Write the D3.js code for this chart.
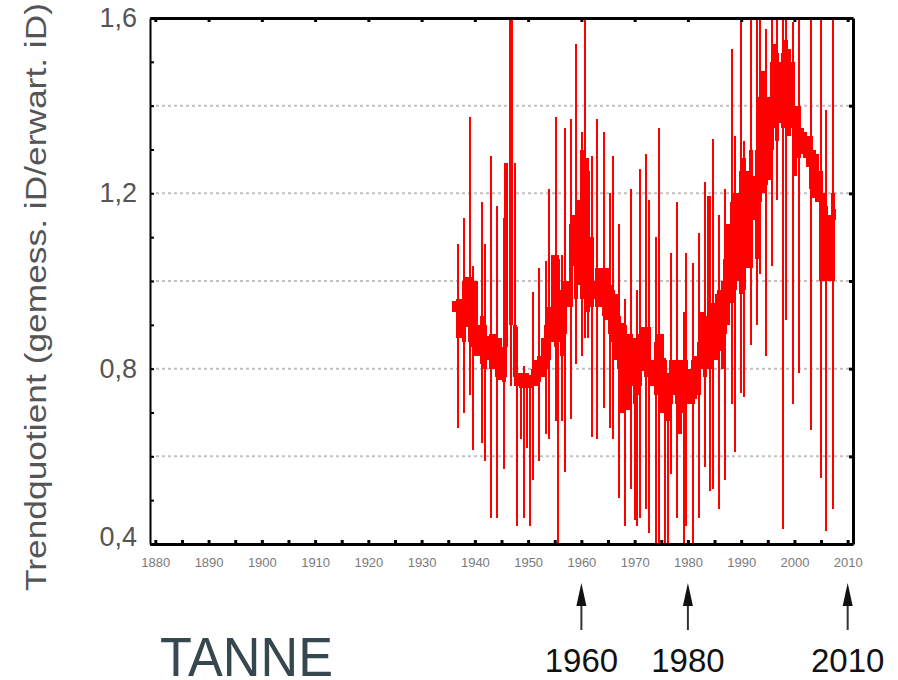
<!DOCTYPE html>
<html>
<head>
<meta charset="utf-8">
<script src="https://cdn.jsdelivr.net/npm/d3@7"></script>
<style>
  body { margin: 0; background: #fff; }
  svg { display: block; font-family: "Liberation Sans", Arial, sans-serif; }
</style>
</head>
<body>
<svg id="chart" width="898" height="680"></svg>
<script>
// time of each sample (decimal year)
const years = [1936.1, 1936.75, 1937.3, 1937.9, 1938.5, 1939.1, 1939.7, 1940.3, 1940.8, 1941.3,
  1941.9, 1942.5, 1943.1, 1943.6, 1944.2, 1944.7, 1945.4, 1945.9, 1946.7, 1947.5,
  1948.0, 1948.6, 1949.2, 1949.8, 1950.4, 1950.9, 1951.5, 1952.1, 1952.7, 1953.3,
  1953.9, 1954.6, 1955.2, 1955.7, 1956.3, 1956.9, 1957.5, 1958.0, 1958.4, 1959.0,
  1959.6, 1960.2, 1960.7, 1961.3, 1961.9, 1962.5, 1963.0, 1963.6, 1964.2, 1964.8,
  1965.4, 1965.9, 1966.5, 1967.1, 1967.7, 1968.2, 1968.8, 1969.4, 1970.0, 1970.5,
  1971.0, 1971.6, 1972.1, 1972.7, 1973.3, 1974.0, 1974.5, 1975.1, 1975.7, 1976.3,
  1976.8, 1977.4, 1978.0, 1978.5, 1979.2, 1979.7, 1980.3, 1980.9, 1981.4, 1982.0,
  1982.6, 1983.2, 1983.8, 1984.2, 1984.8, 1985.4, 1985.9, 1986.5, 1987.0, 1987.6,
  1988.2, 1988.8, 1989.3, 1989.9, 1990.5, 1991.2, 1991.8, 1992.4, 1992.9, 1993.5,
  1994.1, 1994.7, 1995.2, 1995.7, 1996.2, 1996.8, 1997.3, 1997.9, 1998.5, 1999.0,
  1999.7, 2000.2, 2000.8, 2001.4, 2002.0, 2002.5, 2003.1, 2003.6, 2004.2, 2004.9,
  2005.4, 2005.9, 2006.6, 2007.2, 2007.5];

// box (inner range)
const boxLo = [.93, .87, .87, .86, .895, .86, .85, .83, .83, .81,
  .80, .82, .80, .80, .78, .775, .77, .85, .90, .78,
  .76, .755, .755, .755, .755, .76, .76, .77, .78, .80,
  .82, .86, .85, .86, .83, .88, .94, .94, 1.035, .96,
  .99, .96, .96, .93, .94, .96, .94, .94, .92, .91,
  .88, .86, .82, .80, .70, .74, .705, .76, .72, .74,
  .76, .795, .78, .78, .76, .74, .76, .70, .70, .68,
  .72, .74, .72, .65, .70, .72, .72, .72, .73, .74,
  .80, .78, .80, .80, .82, .82, .84, .80, .88, .90,
  .95, .98, 1.0, .97, .98, 1.03, 1.03, 1.14, 1.05, 1.18,
  1.2, 1.22, 1.23, 1.3, 1.35, 1.32, 1.36, 1.35, 1.37, 1.33,
  1.35, 1.24, 1.28, 1.29, 1.28, 1.26, 1.21, 1.19, 1.18, 1.0,
  1.0, 1.0, 1.0, 1.0, 1.14];
const boxHi = [.955, .96, .96, 1.0, 1.01, 1.01, .99, 1.0, .90, .92,
  .90, .875, .88, .88, .87, .87, .85, 1.27, 1.65, .90,
  .79, .79, .79, .79, .785, .80, .82, .83, .87, .90,
  .94, 1.06, 1.0, 1.05, .98, 1.0, 1.0, 1.13, 1.15, 1.15,
  1.185, 1.30, 1.28, 1.25, 1.10, 1.0, 1.03, 1.03, 1.03, 1.03,
  .99, .98, .97, .92, .905, .90, .88, .88, .87, .87,
  .88, .895, .88, .895, .82, .86, .88, .88, .82, .79,
  .82, .82, .80, .82, .82, .82, .80, .82, .83, .86,
  .93, .92, .92, .92, .95, .97, .98, 1.0, 1.05, 1.13,
  1.18, 1.20, 1.2, 1.25, 1.28, 1.25, 1.3, 1.24, 1.3, 1.42,
  1.48, 1.38, 1.42, 1.5, 1.54, 1.52, 1.5, 1.52, 1.55, 1.53,
  1.5, 1.40, 1.40, 1.35, 1.34, 1.33, 1.33, 1.30, 1.29, 1.25,
  1.2, 1.17, 1.15, 1.2, 1.165];

// whiskers (null = no whisker outside the box)
const whiskLo = [null, .665, null, .70, null, .74, .615, null, null, .63,
  .59, null, .46, null, .46, null, .57, .78, .76, .76,
  .44, .64, .46, .62, .44, .545, null, .59, null, .65,
  .64, null, .68, .40, .68, .565, null, .685, null, .81,
  null, .83, .87, .87, .645, null, .64, null, .71, null,
  .665, .64, null, .505, null, .44, null, .525, .455, .44,
  .46, null, .48, .425, null, .39, .39, null, .39, .39,
  .56, null, .46, null, .39, .44, null, .39, null, .46,
  null, .575, .80, .52, .525, null, .48, null, .545, null,
  .72, .61, null, .745, .735, null, .855, null, .90, 1.015,
  null, .83, null, 1.035, null, 1.185, null, .435, .91, null,
  .72, null, .79, null, null, null, .66, null, null, .55,
  null, .43, null, .48, null];
const whiskHi = [null, 1.084, null, 1.143, null, 1.375, 1.035, null, null, 1.18,
  1.085, null, 1.285, null, 1.17, null, 1.143, 1.26, 1.65, 1.27,
  .895, .79, .805, .79, .785, .975, null, 1.03, null, 1.045,
  1.21, null, 1.375, 1.06, 1.06, 1.35, null, 1.37, null, 1.54,
  null, 1.34, 1.65, 1.28, 1.285, null, 1.37, null, 1.34, null,
  1.2, 1.285, null, 1.13, null, .96, null, 1.21, .87, .98,
  1.255, null, 1.29, 1.185, null, 1.1, 1.35, null, .825, .79,
  1.065, null, 1.18, null, .93, 1.065, null, 1.04, null, 1.11,
  null, 1.225, 1.195, 1.195, 1.325, null, 1.15, null, 1.21, null,
  1.53, 1.33, null, 1.59, 1.32, null, 1.65, null, 1.65, 1.65,
  null, 1.575, null, 1.65, null, 1.65, null, 1.65, 1.65, null,
  1.59, null, 1.65, null, null, null, 1.65, null, null, 1.65,
  null, 1.39, null, 1.65, null];

const yLabelVals = [0.4, 0.8, 1.2, 1.6];
const yMinorVals = [0.4, 0.5, 0.6, 0.7, 0.8, 0.9, 1.0, 1.1, 1.2, 1.3, 1.4, 1.5, 1.6];
const gridVals = [0.6, 0.8, 1.0, 1.2, 1.4];
const xTickVals = d3.range(1880, 2011, 5);
const markYears = [1960, 1980, 2010];
const yTitle = "Trendquotient (gemess. iD/erwart. iD)";
const speciesName = "TANNE";

const svg = d3.select("#chart");

const x = d3.scaleLinear().domain([1879, 2011]).range([150, 853]);
const y = d3.scaleLinear().domain([0.4, 1.6]).range([544, 18]);
const comma = v => d3.format(".1f")(v).replace(".", ",");

// dotted grid
svg.append("g")
  .selectAll("line")
  .data(gridVals)
  .join("line")
  .attr("x1", x.range()[0])
  .attr("x2", x.range()[1])
  .attr("y1", d => y(d))
  .attr("y2", d => y(d))
  .attr("stroke", "#c0c0c0")
  .attr("stroke-width", 2)
  .attr("stroke-dasharray", "3,3");

svg.append("clipPath").attr("id", "plot")
  .append("rect")
  .attr("x", x.range()[0]).attr("y", y.range()[1])
  .attr("width", x.range()[1] - x.range()[0])
  .attr("height", y.range()[0] - y.range()[1]);

const pts = years.map((yr, i) => ({
  yr, bLo: boxLo[i], bHi: boxHi[i], wLo: whiskLo[i], wHi: whiskHi[i]
}));

const plot = svg.append("g")
  .attr("clip-path", "url(#plot)")
  .attr("shape-rendering", "crispEdges");

// whiskers
plot.selectAll("rect.w")
  .data(pts.filter(d => d.wLo !== null))
  .join("rect")
  .attr("class", "w")
  .attr("x", d => Math.round(x(d.yr)) - 1)
  .attr("width", 2)
  .attr("y", d => Math.round(y(d.wHi)))
  .attr("height", d => Math.round(y(d.wLo)) - Math.round(y(d.wHi)))
  .attr("fill", "#ff0000");

// boxes
plot.selectAll("rect.b")
  .data(pts)
  .join("rect")
  .attr("class", "b")
  .attr("x", d => Math.round(x(d.yr)) - 2)
  .attr("width", 4)
  .attr("y", d => Math.round(y(d.bHi)))
  .attr("height", d => Math.max(3, Math.round(y(d.bLo)) - Math.round(y(d.bHi))))
  .attr("fill", "#ff0000");

// left axis
const gl = svg.append("g")
  .attr("transform", `translate(${x.range()[0]},0)`)
  .call(d3.axisLeft(y).tickValues(yMinorVals).tickSize(-4).tickSizeOuter(0).tickPadding(13)
    .tickFormat(d => yLabelVals.some(v => Math.abs(v - d) < 1e-6) ? comma(d) : ""));
gl.select(".domain").attr("stroke-width", 2);
gl.selectAll(".tick line").attr("stroke-width", 2);
gl.selectAll("text").attr("font-size", 27).attr("fill", "#555")
  .attr("font-family", "Liberation Sans, Arial, sans-serif");
gl.selectAll(".tick").filter(d => Math.abs(d - 0.4) < 1e-6).select("text").attr("dy", "0.05em");

// right axis
const gr = svg.append("g")
  .attr("transform", `translate(${x.range()[1]},0)`)
  .call(d3.axisRight(y).tickValues(gridVals).tickSize(-4).tickSizeOuter(0).tickFormat(""));
gr.select(".domain").attr("stroke-width", 3);
gr.selectAll(".tick line").attr("stroke-width", 3);

// bottom axis
const gb = svg.append("g")
  .attr("transform", `translate(0,${y.range()[0]})`)
  .call(d3.axisBottom(x).tickValues(xTickVals).tickSize(-4).tickSizeOuter(0).tickPadding(14)
    .tickFormat(d => d % 10 === 0 ? d : ""));
gb.select(".domain").attr("stroke-width", 3);
gb.selectAll(".tick line").attr("stroke-width", 3);
gb.selectAll("text").attr("font-size", 13).attr("fill", "#7a7a7a")
  .attr("font-family", "Liberation Sans, Arial, sans-serif");

// top axis
const gt = svg.append("g")
  .attr("transform", `translate(0,${y.range()[1]})`)
  .call(d3.axisTop(x).tickValues(xTickVals.filter(d => d % 10 === 0)).tickSize(-4).tickSizeOuter(0).tickFormat(""));
gt.select(".domain").attr("stroke-width", 3);
gt.selectAll(".tick line").attr("stroke-width", 3);

// y title
svg.append("text")
  .attr("transform", "translate(46,297) rotate(-90)")
  .attr("text-anchor", "middle")
  .attr("font-size", 30)
  .attr("fill", "#555")
  .attr("textLength", 588)
  .attr("lengthAdjust", "spacingAndGlyphs")
  .text(yTitle);

// species label
svg.append("text")
  .attr("x", 160).attr("y", 676)
  .attr("font-size", 56)
  .attr("fill", "#37474f")
  .attr("textLength", 173)
  .attr("lengthAdjust", "spacingAndGlyphs")
  .text(speciesName);

// arrows under the axis
const arrows = svg.append("g").selectAll("g").data(markYears).join("g")
  .attr("transform", d => `translate(${x(d)},0)`);
arrows.append("line")
  .attr("y1", 600).attr("y2", 630)
  .attr("stroke", "#333").attr("stroke-width", 2);
arrows.append("path")
  .attr("d", "M0,583 L5,606 L-5,606 Z")
  .attr("fill", "#111");
arrows.append("text")
  .attr("y", 672)
  .attr("text-anchor", "middle")
  .attr("font-size", 33)
  .attr("fill", "#111")
  .text(d => d);
</script>
</body>
</html>
